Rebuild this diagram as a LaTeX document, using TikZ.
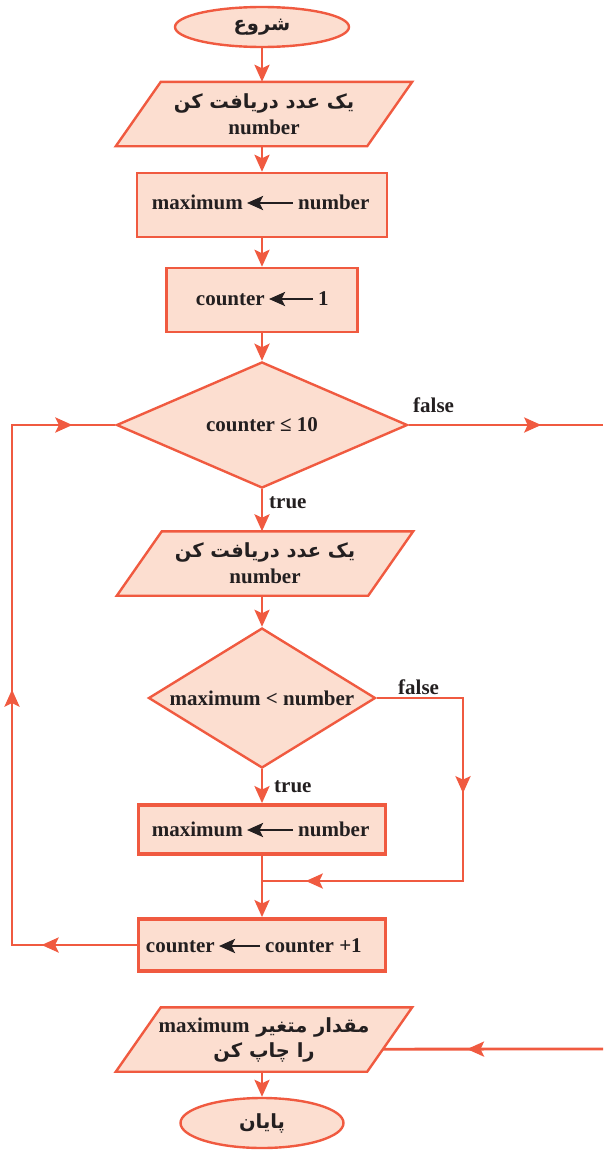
\documentclass[tikz,border=0pt]{standalone}
\usepackage{fontspec}
\setmainfont{Liberation Serif}
\newfontfamily\fa[Script=Arabic]{DejaVu Sans}
\TeXXeTstate=1
\usetikzlibrary{shapes.geometric, arrows.meta, calc, decorations.markings}
\pgfdeclarelayer{background}
\pgfsetlayers{background,main}

\definecolor{flow}{RGB}{240,90,64}
\definecolor{peach}{RGB}{252,222,208}
\definecolor{ink}{RGB}{35,31,32}

% Persian text, right to left
\newcommand\pers[1]{{\fa\fontsize{19.5}{26}\selectfont\beginR #1\endR}}
% Latin word inside Persian text
\newcommand\lat[1]{\beginL{\rmfamily\fontsize{21}{26}\selectfont #1}\endL}
% parallelogram drawn behind an input/output node
\newcommand\drawio[1]{%
  \begin{pgfonlayer}{background}
    \draw[shapebase] (#1.south west) -- ($(#1.north west)+(45,0)$)
      -- (#1.north east) -- ($(#1.south east)+(-45,0)$) -- cycle;
  \end{pgfonlayer}}

\begin{document}
\begin{tikzpicture}[x=1pt, y=-1pt,
  every node/.style={text=ink, font=\fontsize{21}{26}\selectfont\bfseries},
  >={Stealth[length=17pt, width=15pt, inset=3.5pt]},
  shapebase/.style={draw=flow, fill=peach, line width=2.4pt},
  box/.style={shapebase, rectangle, minimum height=64pt, inner sep=0pt},
  thickbox/.style={box, line width=3.8pt},
  terminal/.style={shapebase, ellipse, inner sep=0pt},
  decision/.style={shapebase, diamond, inner sep=0pt},
  io/.style={rectangle, minimum width=296pt, minimum height=64pt, inner sep=0pt, align=center},
  word/.style={inner sep=0pt},
  assign/.style={draw=ink, line width=2.6pt, -{Stealth[length=16pt, width=14pt, inset=3.5pt]}},
  conn/.style={color=flow, line width=2.8pt},
  marks/.style={postaction={decorate}, decoration={markings, #1}}
]
\useasboundingbox (0,0) rectangle (603,1151);

% start
\node[terminal, minimum width=174pt, minimum height=40pt] (start) at (262,27) {\pers{شروع}};

% read a number
\node[io] (in1) at (264,114) {\pers{یک عدد دریافت کن}\\number};
\drawio{in1}

% maximum <- number
\node[box, minimum width=250pt] (b1) at (262,205) {};
\node[word, anchor=base east] (b1a) at (243,209) {maximum};
\node[word, anchor=base west] (b1b) at (298,209) {number};
\draw[assign] ($(b1b.base west)+(-5,-6)$) -- ($(b1a.base east)+(4,-6)$);

% counter <- 1
\node[box, minimum width=191pt] (b2) at (262,300) {};
\node[word, anchor=base east] (b2a) at (265,305) {counter};
\node[word, anchor=base west] (b2b) at (318,305) {1};
\draw[assign] ($(b2b.base west)+(-5,-6)$) -- ($(b2a.base east)+(4,-6)$);

% loop test
\node[decision, minimum width=291pt, minimum height=118pt] (d1) at (262,425) {counter ≤ 10};
\node[word, anchor=base west] (f1) at (413,412) {false};
\node[word, anchor=base west] (t1) at (269,508) {true};

% read a number
\node[io] (in2) at (265,563.5) {\pers{یک عدد دریافت کن}\\number};
\drawio{in2}

% comparison
\node[decision, minimum width=227pt, minimum height=140pt, aspect=1.6] (d2) at (262,698) {maximum < number};
\node[word, anchor=base west] (f2) at (398,694) {false};
\node[word, anchor=base west] (t2) at (274,792) {true};

% maximum <- number
\node[thickbox, minimum width=247pt, minimum height=49pt] (b3) at (262,829.5) {};
\node[word, anchor=base east] (b3a) at (243,836) {maximum};
\node[word, anchor=base west] (b3b) at (298,836) {number};
\draw[assign] ($(b3b.base west)+(-5,-6)$) -- ($(b3a.base east)+(4,-6)$);

% counter <- counter + 1
\node[thickbox, minimum width=247pt, minimum height=52pt] (b4) at (262,945) {};
\node[word, anchor=base east] (b4a) at (215,952) {counter};
\node[word, anchor=base west] (b4b) at (265,952) {counter +1};
\draw[assign] ($(b4b.base west)+(-5,-6)$) -- ($(b4a.base east)+(4,-6)$);

% print result
\node[io] (out) at (264,1039.5) {\pers{مقدار متغیر \lat{maximum}}\\[-1pt]\pers{را چاپ کن}};
\drawio{out}

% end
\node[terminal, minimum width=163pt, minimum height=50pt] (stop) at (262,1123) {\pers{پایان}};

% helper points
\coordinate (join) at (262,881);
\coordinate (fc) at (463,881);
\coordinate (lt) at (12,425);
\coordinate (exitR) at (603,425);
\coordinate (inR) at (603,1049);
\coordinate (outse) at ($(out.south east)+(-45,0)$);
\coordinate (outin) at ($(outse)!0.35!(out.north east)$);

% straight flow
\draw[conn, ->] (start.south) -- (start.south |- in1.north);
\draw[conn, ->] (b1.north |- in1.south) -- (b1.north);
\draw[conn, ->] (b1.south) -- (b2.north);
\draw[conn, ->] (b2.south) -- (d1.north);
\draw[conn, ->] (d1.south) -- (d1.south |- in2.north);
\draw[conn, ->] (d2.north |- in2.south) -- (d2.north);
\draw[conn, ->] (d2.south) -- (b3.north);
\draw[conn, ->] (b3.south) -- (b4.north);
\draw[conn, ->] (stop.north |- out.south) -- (stop.north);

% false branch of the comparison
\draw[conn, marks={mark=at position 181.5pt with {\arrow{>}}, mark=at position 426.5pt with {\arrow{>}}}]
  (d2.east) -| (fc) -- (join);

% loop back
\draw[conn, marks={mark=at position 95pt with {\arrow{>}}, mark=at position 380pt with {\arrow{>}}, mark=at position 705pt with {\arrow{>}}}]
  (b4.west) -| (lt) -- (d1.west);

% leaving the loop
\draw[conn, marks={mark=at position 132.5pt with {\arrow{>}}}] (d1.east) -- (exitR);
\draw[conn, marks={mark=at position 136pt with {\arrow{>}}}] (inR) -- (outin);
\end{tikzpicture}
\end{document}
